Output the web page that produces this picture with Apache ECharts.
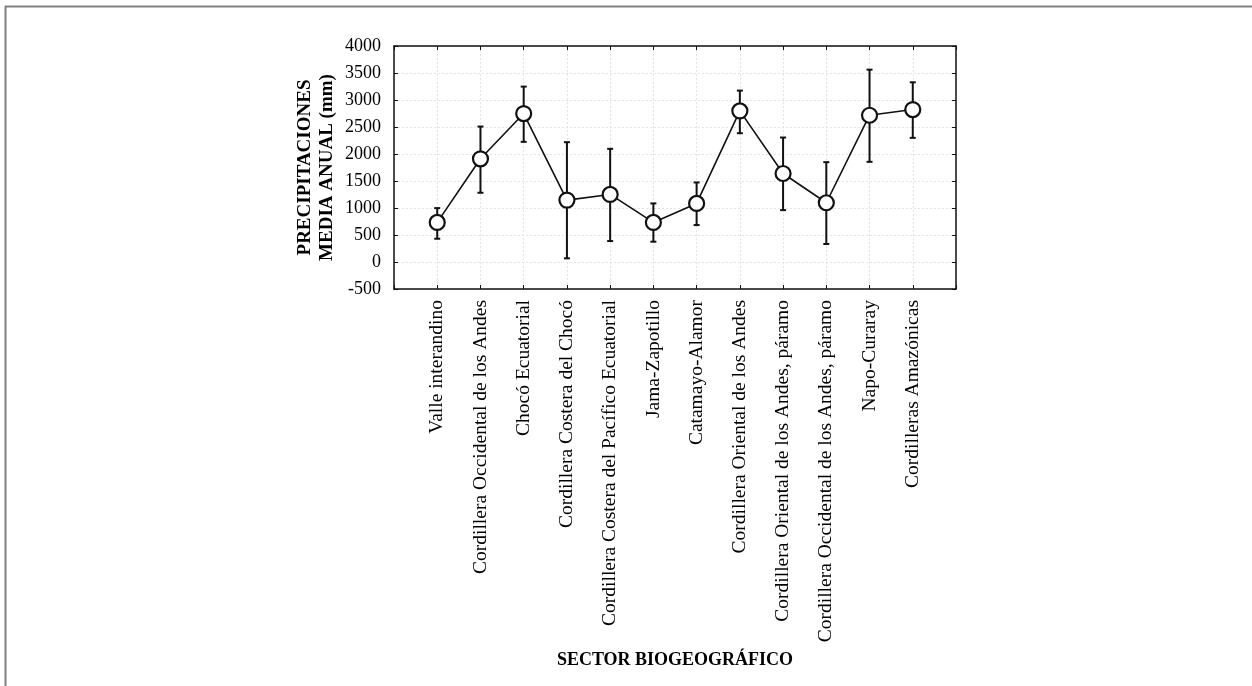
<!DOCTYPE html>
<html>
<head>
<meta charset="utf-8">
<script src="https://cdn.jsdelivr.net/npm/echarts@6/dist/echarts.min.js"></script>
<style>
html,body{margin:0;padding:0;background:#fff;}
#chart{width:1252px;height:686px;}
</style>
</head>
<body>
<div id="chart"></div>
<script>
var categories = [
  'Valle interandino',
  'Cordillera Occidental de los Andes',
  'Chocó Ecuatorial',
  'Cordillera Costera del Chocó',
  'Cordillera Costera del Pacífico Ecuatorial',
  'Jama-Zapotillo',
  'Catamayo-Alamor',
  'Cordillera Oriental de los Andes',
  'Cordillera Oriental de los Andes, páramo',
  'Cordillera Occidental de los Andes, páramo',
  'Napo-Curaray',
  'Cordilleras Amazónicas'
];
var means = [733, 1911, 2749, 1146, 1251, 733, 1085, 2798, 1639, 1097, 2718, 2823];
var upper = [998, 2508, 3248, 2219, 2096, 1085, 1473, 3174, 2305, 1849, 3562, 3328];
var lower = [431, 1282, 2225, 68, 388, 376, 684, 2385, 961, 333, 1855, 2299];
var yTicks = [-500, 0, 500, 1000, 1500, 2000, 2500, 3000, 3500, 4000];

var serif = '"Liberation Serif", "DejaVu Serif", serif';
var chart = echarts.init(document.getElementById('chart'), null, {renderer: 'canvas'});

var meanData = means.map(function (v, i) { return [i, v]; });
var errData = means.map(function (v, i) { return [i, lower[i], upper[i]]; });

var axisLineStyle = {show: true, onZero: false, lineStyle: {color: '#111', width: 1.5}};
var tickStyle = {show: true, inside: true, length: 4, lineStyle: {color: '#111', width: 1}};

var option = {
  backgroundColor: '#ffffff',
  animation: false,
  grid: {
    left: 394, right: 296, top: 46, bottom: 397,
    containLabel: false,
    outerBoundsMode: 'none',
    show: false
  },
  graphic: [
    {type: 'line', shape: {x1: 5, y1: 6.5, x2: 1252, y2: 6.5}, style: {stroke: '#808080', lineWidth: 2}},
    {type: 'line', shape: {x1: 5.5, y1: 6, x2: 5.5, y2: 686}, style: {stroke: '#808080', lineWidth: 2}}
  ],
  xAxis: [
    {
      type: 'value', min: -1, max: 12, interval: 1,
      position: 'bottom',
      name: 'SECTOR BIOGEOGRÁFICO',
      nameLocation: 'middle',
      nameGap: 362,
      nameTextStyle: {fontFamily: serif, fontWeight: 'bold', fontSize: 18, color: '#000'},
      axisLine: axisLineStyle,
      axisTick: tickStyle,
      axisLabel: {
        rotate: 90, margin: 11,
        fontFamily: serif, fontSize: 19.5, color: '#000',
        formatter: function (v) { return (v >= 0 && v < categories.length) ? categories[v] : ''; }
      },
      splitLine: {show: true, lineStyle: {color: '#e4e4e4', type: [2, 2], width: 1}}
    },
    {
      type: 'value', min: -1, max: 12, interval: 1,
      position: 'top',
      axisLine: axisLineStyle,
      axisTick: tickStyle,
      axisLabel: {show: false},
      splitLine: {show: false}
    }
  ],
  yAxis: [
    {
      type: 'value', min: -500, max: 4000, interval: 500,
      position: 'left',
      name: 'PRECIPITACIONES\nMEDIA ANUAL (mm)',
      nameLocation: 'middle',
      nameGap: 56,
      nameRotate: 90,
      nameTextStyle: {fontFamily: serif, fontWeight: 'bold', fontSize: 19, color: '#000', lineHeight: 22},
      axisLine: axisLineStyle,
      axisTick: tickStyle,
      axisLabel: {
        margin: 13, fontFamily: serif, fontSize: 18, color: '#000',
        formatter: function (v) { return yTicks.indexOf(v) >= 0 ? String(v) : ''; }
      },
      splitLine: {show: true, lineStyle: {color: '#e4e4e4', type: [2, 2], width: 1}}
    },
    {
      type: 'value', min: -500, max: 4000, interval: 500,
      position: 'right',
      axisLine: axisLineStyle,
      axisTick: tickStyle,
      axisLabel: {show: false},
      splitLine: {show: false}
    }
  ],
  series: [
    {
      type: 'custom',
      xAxisIndex: 0, yAxisIndex: 0,
      z: 2,
      data: errData,
      renderItem: function (params, api) {
        var x = api.value(0);
        var lo = api.coord([x, api.value(1)]);
        var hi = api.coord([x, api.value(2)]);
        var cap = 3;
        var st = {stroke: '#111', lineWidth: 2};
        return {
          type: 'group',
          children: [
            {type: 'line', shape: {x1: lo[0], y1: lo[1], x2: hi[0], y2: hi[1]}, style: st},
            {type: 'line', shape: {x1: hi[0] - cap, y1: hi[1], x2: hi[0] + cap, y2: hi[1]}, style: st},
            {type: 'line', shape: {x1: lo[0] - cap, y1: lo[1], x2: lo[0] + cap, y2: lo[1]}, style: st}
          ]
        };
      }
    },
    {
      type: 'line',
      xAxisIndex: 0, yAxisIndex: 0,
      z: 3,
      data: meanData,
      symbol: 'circle',
      symbolSize: 15,
      lineStyle: {color: '#111', width: 1.6},
      itemStyle: {color: '#fff', borderColor: '#111', borderWidth: 2.2},
      emphasis: {disabled: true}
    }
  ]
};
chart.setOption(option);
</script>
</body>
</html>
